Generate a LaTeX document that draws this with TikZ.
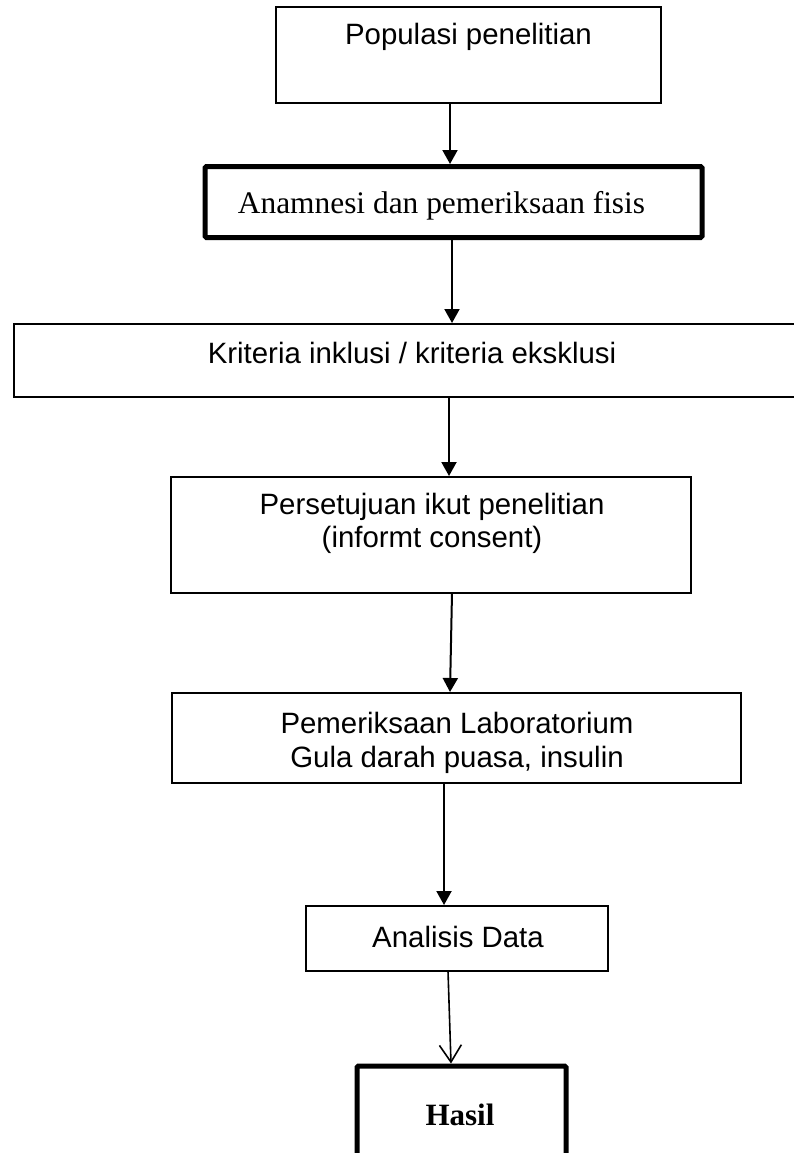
\documentclass[tikz,border=0pt]{standalone}
\usepackage{fontspec}
\setmainfont{Liberation Sans}
\newfontfamily\timesfont{Liberation Serif}
\usetikzlibrary{arrows.meta}
\begin{document}
\begin{tikzpicture}[x=1pt,y=-1pt,
  thinbox/.style={draw, line width=1.8pt, rectangle, inner sep=0pt, outer sep=0pt},
  thickbox/.style={draw, line width=5pt, rectangle, rounded corners=1.5pt, inner sep=0pt, outer sep=0pt},
  txt/.style={font=\fontsize{29.4}{34}\selectfont, anchor=base, inner sep=0pt},
  serif/.style={font=\timesfont\fontsize{31.4}{36}\selectfont, anchor=base, inner sep=0pt},
  serifbold/.style={font=\timesfont\bfseries\fontsize{31}{36}\selectfont, anchor=base, inner sep=0pt},
  arr/.style={line width=2pt, -{Triangle[length=14pt,width=15pt]}},
  openarr/.style={line width=1.6pt, -{Straight Barb[length=17pt,width=22pt]}}]
\useasboundingbox (0,0) rectangle (793,1153);

\node[thinbox, minimum width=385pt, minimum height=96pt] (b1) at (468.5,55) {};
\node[txt] (t1) at (468.5,45) {Populasi penelitian};

\node[thickbox, minimum width=497pt, minimum height=71pt] (b2) at (453.5,202) {};
\node[serif] (t2) at (441.5,213) {Anamnesi dan pemeriksaan fisis};

\node[thinbox, minimum width=796pt, minimum height=73pt] (b3) at (412,360.5) {};
\node[txt] (t3) at (412,363) {Kriteria inklusi / kriteria eksklusi};

\node[thinbox, minimum width=520pt, minimum height=116pt] (b4) at (431,535) {};
\node[txt] (t4a) at (432,514) {Persetujuan ikut penelitian};
\node[txt] (t4b) at (432,547) {(informt consent)};

\node[thinbox, minimum width=569pt, minimum height=90pt] (b5) at (456.5,738) {};
\node[txt] (t5a) at (457,733) {Pemeriksaan Laboratorium};
\node[txt] (t5b) at (457,767) {Gula darah puasa, insulin};

\node[thinbox, minimum width=302pt, minimum height=65pt] (b6) at (457,938.5) {};
\node[txt] (t6) at (458,947) {Analisis Data};

\node[thickbox, minimum width=209pt, minimum height=130pt] (b7) at (461.5,1131) {};
\node[serifbold] (t7) at (460,1125) {Hasil};

\draw[arr] ([xshift=-18.5pt]b1.south) -- ([xshift=-3.5pt,yshift=2.5pt]b2.north);
\draw[arr] ([xshift=-1.5pt]b2.south) -- ([xshift=40pt,yshift=1pt]b3.north);
\draw[arr] ([xshift=37pt]b3.south) -- ([xshift=18pt,yshift=1pt]b4.north);
\draw[arr] ([xshift=21pt]b4.south) -- ([xshift=-6.5pt,yshift=1pt]b5.north);
\draw[arr] ([xshift=-12.5pt]b5.south) -- ([xshift=-13pt,yshift=1pt]b6.north);
\draw[openarr] ([xshift=-9pt]b6.south) -- ([xshift=-10.5pt,yshift=2.5pt]b7.north);
\end{tikzpicture}
\end{document}
